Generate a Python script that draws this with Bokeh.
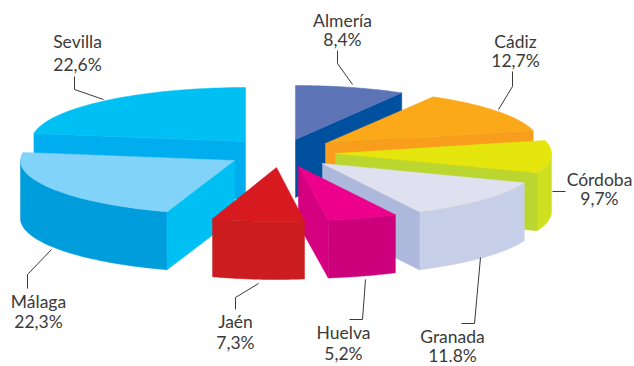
import numpy as np
from bokeh.plotting import figure
from bokeh.models import Range1d, ColumnDataSource
from bokeh.core.properties import value
from bokeh.embed import file_html
from bokeh.resources import INLINE

# --- data (clockwise from 12 o'clock)
provinces = ["Almería", "Cádiz", "Córdoba", "Granada", "Huelva", "Jaén", "Málaga", "Sevilla"]
shares = [8.4, 12.7, 9.7, 11.8, 5.2, 7.3, 22.3, 22.6]
share_labels = ["8,4%", "12,7%", "9,7%", "11.8%", "5,2%", "7,3%", "22,3%", "22,6%"]

# --- styles and layout
top_colors = ["#5C73B5", "#FBA919", "#E6E60F", "#DFE1F0", "#EC008C", "#D71920", "#81D3F9", "#00BFF3"]
outer_colors = ["#0050A0", "#F99D1C", "#CFE021", "#C7CEE8", "#CC007A", "#CB1C1F", "#009DDC", "#00AEEF"]
cut_colors = ["#0050A0", "#F99D1C", "#BBD62E", "#AEB8DD", "#D4007F", "#CB1C1F", "#00BFF3", "#00AEEF"]
apex_x = [295, 325, 335, 322, 298, 276, 234, 245]
apex_y = [139, 143, 153, 163, 166, 167, 160, 141]
radius_x = [211, 214, 216, 216, 216, 203, 214, 214]
RY, DEPTH = 54, 58
draw_order = [7, 0, 1, 2, 6, 3, 4, 5]

label_x = [342, 515, 599, 452, 343, 235, 38, 77]
label_y = [(20, 39), (41, 60), (179, 198), (336, 355), (332, 353), (321, 342), (301, 321), (41, 64)]
leader_x = [[337, 337, 352], [512, 512, 498], [552, 565], [480, 474, 461],
            [365, 362, 349], [258, 235, 235], [51, 27, 27], [74, 74, 103]]
leader_y = [[50, 63, 84], [71, 86, 109], [191, 191], [257, 323, 323],
            [279, 319, 319], [283, 297, 309], [249, 274, 288], [76, 89, 99]]

edges = np.cumsum([0] + shares) / sum(shares) * 360


def arc(i, a, b):
    t = np.radians(np.linspace(a, b, 48))
    return apex_x[i] + radius_x[i] * np.sin(t), apex_y[i] - RY * np.cos(t)


xs, ys, colors = [], [], []


def add(x, y, c):
    xs.append(list(x))
    ys.append(list(y))
    colors.append(c)


for i in draw_order:
    a, b = edges[i], edges[i + 1]
    # outer rim, only where it faces the viewer
    lo, hi = max(a, 90), min(b, 270)
    if lo < hi:
        x, y = arc(i, lo, hi)
        add(np.r_[x, x[::-1]], np.r_[y, y[::-1] + DEPTH], outer_colors[i])
    # radial cut faces, only where they face the viewer
    for ang, visible in ((b, b < 180), (a, a > 180)):
        if visible:
            x, y = arc(i, ang, ang)
            add([apex_x[i], x[0], x[0], apex_x[i]],
                [apex_y[i], y[0], y[0] + DEPTH, apex_y[i] + DEPTH], cut_colors[i])
    # top face
    x, y = arc(i, a, b)
    add(np.r_[apex_x[i], x], np.r_[apex_y[i], y], top_colors[i])

p = figure(width=634, height=366, output_backend="svg", toolbar_location=None,
           x_range=Range1d(0, 634), y_range=Range1d(366, 0), min_border=0,
           outline_line_color=None)
p.axis.visible = False
p.grid.visible = False

src = ColumnDataSource(dict(xs=xs, ys=ys, c=colors))
p.patches("xs", "ys", source=src, fill_color="c", line_color="c", line_width=0.5)
p.multi_line(leader_x, leader_y, line_color="#3a3a3a", line_width=1)

tx, ty, tt = [], [], []
for i, name in enumerate(provinces):
    tx += [label_x[i], label_x[i]]
    ty += list(label_y[i])
    tt += [name, share_labels[i]]
p.text(tx, ty, text=tt, text_font=value("Lato"), text_font_size="17.5px",
       text_color="#3a3a3a", text_align="center", text_baseline="middle")

open("out.html", "w").write(file_html(p, INLINE))
